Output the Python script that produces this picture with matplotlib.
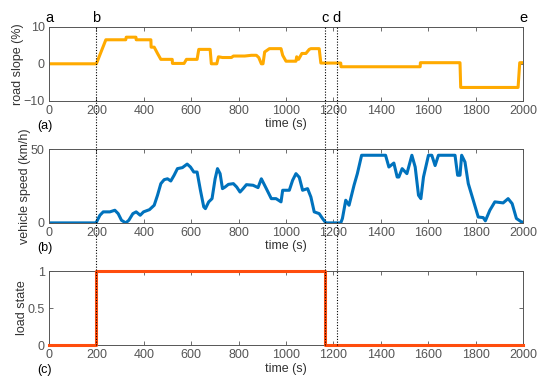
import numpy as np
import matplotlib
matplotlib.use("Agg")
import matplotlib.pyplot as plt
from matplotlib.lines import Line2D
import matplotlib.transforms as mtransforms

plt.rcParams["font.family"] = ["Liberation Sans", "DejaVu Sans"]

# ── data ──────────────────────────────────────────────────────
slope_t = [0, 200, 240, 324, 326, 367, 368, 430, 431, 444, 458, 472, 520, 521,
           570, 580, 625, 632, 680, 685, 708, 715, 732, 770, 778, 826, 854, 875,
           885, 896, 903, 910, 930, 958, 979, 986, 1000, 1042, 1045, 1053, 1067,
           1084, 1098, 1105, 1140, 1147, 1231, 1232, 1566, 1567, 1734, 1737,
           1979, 1986, 2000]
slope_v = [0, 0, 6.5, 6.5, 7.2, 7.2, 6.5, 6.5, 4.5, 4.5, 2.8, 1.2, 1.2, 0.1,
           0.1, 1.2, 1.2, 3.9, 3.9, 0, 0, 1.9, 1.7, 1.7, 2.1, 2.1, 2.3, 2.3,
           1.7, 0, 0, 3.2, 4.1, 4.1, 4.1, 2.3, 0.7, 0.7, 1.9, 1.2, 2.8,
           2.8, 3.9, 4.1, 4.1, 0.2, 0.2, -0.8, -0.8, 0.3, 0.3, -6.4,
           -6.4, 0.3, 0.3]

speed_t = [0, 200, 201, 215, 229, 257, 278, 292, 306, 324, 337, 354, 368, 385,
           399, 424, 444, 458, 472, 486, 500, 514, 528, 542, 563, 583, 597,
           611, 625, 639, 653, 660, 674, 688, 701, 711, 722, 732, 743, 757,
           778, 792, 806, 819, 833, 861, 882, 896, 917, 938, 958, 979, 986,
           1014, 1028, 1042, 1056, 1070, 1091, 1105, 1119, 1140, 1154, 1168,
           1231, 1238, 1252, 1266, 1287, 1301, 1319, 1420, 1434, 1455, 1469,
           1476, 1490, 1510, 1531, 1545, 1559, 1569, 1580, 1601, 1615, 1629,
           1643, 1713, 1724, 1734, 1741, 1755, 1769, 1790, 1811, 1832, 1841,
           1860, 1881, 1916, 1937, 1954, 1972, 1993, 2000]
speed_v = [0, 0, 0.7, 5.2, 7.5, 7.5, 8.6, 6.3, 1.8, 0, 1.8, 6.3, 7.5, 5.2,
           7.5, 9, 12, 18.8, 26.7, 29.4, 30, 28.5, 32.4, 36.9, 37.6, 40, 38,
           34.6, 34.6, 22.2, 10.9, 9.7, 14.3, 16.5, 30, 36.9, 33.5, 23.3, 24.4,
           26.2, 26.7, 24.4, 21, 23.3, 26, 25.6, 24, 30, 23.3, 16.5, 16.5,
           14.3, 22.2, 22.2, 29, 33.5, 31, 22.2, 23.3, 17.6, 7.5, 6.3, 3, 0,
           0, 3, 15.4, 12, 25.6, 33.5, 46, 46, 38, 40.7, 31.2, 31.2, 36.9,
           33.5, 46, 38, 18.8, 16.5, 31.2, 46, 46, 39, 46, 46, 32.4, 32.4, 46,
           41.4, 26.7, 15.4, 4, 3.6, 1.4, 8.6, 14.3, 13.6, 16.5, 13.1, 3, 0.7,
           0.5]

load_t = [0, 200, 200, 1165, 1165, 2000]
load_v = [0, 0, 1, 1, 0, 0]

marks = ["a", "b", "c", "d", "e"]
mark_t = [0, 200, 1165, 1215, 2000]
dotted_t = [200, 1165, 1215]

# ── style ─────────────────────────────────────────────────────
C_SLOPE = "#FFAA00"
C_SPEED = "#0072BD"
C_LOAD = "#FF4D0D"
GRAY = "#555555"
LAB = "#333333"

fig = plt.figure(figsize=(5.5, 3.89), dpi=100)
left, width = 0.089, 0.862
ax1 = fig.add_axes([left, 0.741, width, 0.190])
ax2 = fig.add_axes([left, 0.427, width, 0.189])
ax3 = fig.add_axes([left, 0.113, width, 0.190])


def style(ax):
    ax.set_xlim(0, 2000)
    ax.set_xticks(np.arange(0, 2001, 200))
    ax.tick_params(direction="in", top=True, right=True, labelsize=9,
                   colors=GRAY, length=3, width=0.6, pad=3)
    for s in ax.spines.values():
        s.set_color(GRAY)
        s.set_linewidth(0.7)
    ax.set_xlabel("time (s)", fontsize=9, color=LAB, labelpad=1)


ax1.plot(slope_t, slope_v, color=C_SLOPE, lw=2.2)
ax1.set_ylim(-10, 10)
ax1.set_yticks([-10, 0, 10])
ax1.set_ylabel("road slope (%)", fontsize=9, color=LAB, labelpad=0)
style(ax1)

ax2.plot(speed_t, speed_v, color=C_SPEED, lw=2.2)
ax2.set_ylim(0, 50)
ax2.set_yticks([0, 50])
ax2.set_ylabel("vehicle speed (km/h)", fontsize=9, color=LAB, labelpad=0)
style(ax2)

ax3.plot(load_t, load_v, color=C_LOAD, lw=2.2, clip_on=False, zorder=3)
ax3.set_ylim(0, 1)
ax3.set_yticks([0, 0.5, 1])
ax3.set_yticklabels(["0", "0.5", "1"])
ax3.set_ylabel("load state", fontsize=9, color=LAB, labelpad=0)
style(ax3)

# panel tags
for ax, tag in [(ax1, "(a)"), (ax2, "(b)"), (ax3, "(c)")]:
    ax.text(-0.025, -0.26, tag, transform=ax.transAxes, fontsize=9,
            ha="left", va="top")

# letters above the top panel
for m, t in zip(marks, mark_t):
    ax1.text(t, 1.02, m, transform=ax1.get_xaxis_transform(), fontsize=10.5,
             ha="center", va="bottom")

# dotted markers spanning all panels
tr = mtransforms.blended_transform_factory(ax3.transData, fig.transFigure)
y_top = 0.741 + 0.190
y_bot = 0.113
for t in dotted_t:
    fig.add_artist(Line2D([t, t], [y_bot, y_top], transform=tr, color="black",
                          lw=0.8, linestyle=(0, (1, 1.5)), zorder=5))

fig.savefig("out.png", dpi=100)
